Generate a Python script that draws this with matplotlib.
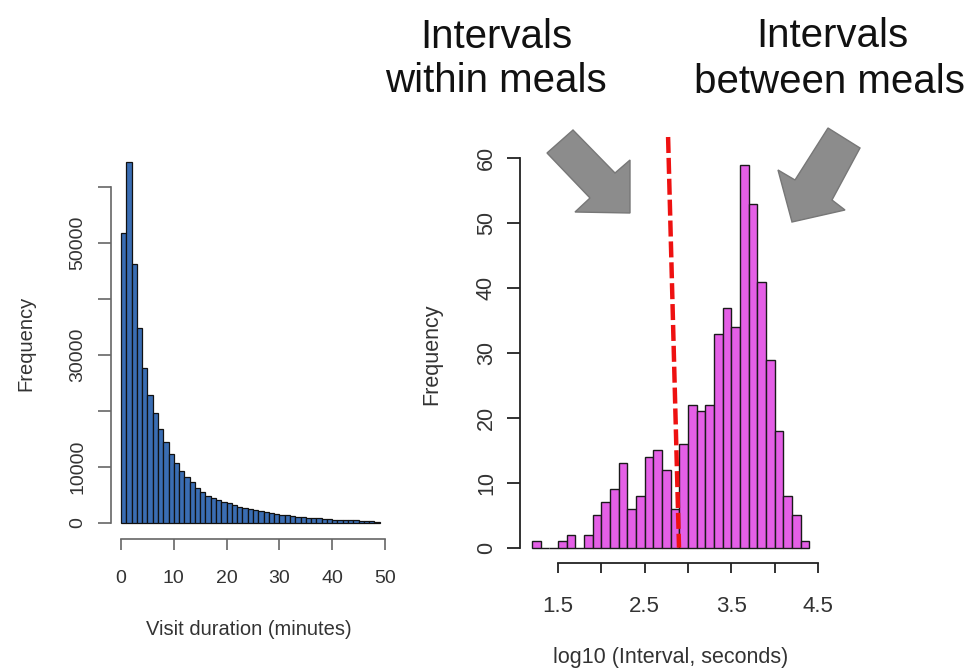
import numpy as np
import matplotlib
matplotlib.use("Agg")
import matplotlib.pyplot as plt
from matplotlib.patches import Polygon

plt.rcParams["font.family"] = ["Liberation Sans", "DejaVu Sans"]

# ---- visit durations (minutes), 1-minute bins starting at 0 ----
duration_counts = [
    51800, 64400, 46300, 34800, 27700, 22900, 19600, 16700, 14400, 12400,
    10800, 9350, 8300, 7300, 6250, 5500, 4900, 4450, 4100, 3800,
    3500, 3200, 2900, 2700, 2450, 2300, 2100, 1950, 1750, 1600,
    1450, 1350, 1250, 1150, 1050, 980, 900, 850, 780, 720,
    600, 550, 520, 480, 450, 420, 400, 380, 200,
]
duration_edges = np.arange(0, len(duration_counts) + 1, 1.0)
duration_ticks = [0, 10, 20, 30, 40, 50]
duration_yticks = [0, 10000, 20000, 30000, 40000, 50000, 60000]
duration_ylabels = ["0", "", "10000", "", "30000", "", "50000"]
duration_ylabels = ["0", "10000", "", "30000", "", "50000", ""]

# ---- log10 of inter-visit intervals (seconds), bins of 0.1 from 1.2 ----
interval_counts = [
    1, 0, 0, 1, 2, 0, 2, 5, 7, 9, 13, 6, 8, 14, 15, 12,
    6, 16, 22, 21, 22, 33, 37, 34, 59, 53, 41, 29, 18, 8, 5, 1,
]
interval_edges = np.round(1.2 + 0.1 * np.arange(len(interval_counts) + 1), 1)
interval_ticks = [1.5, 2.0, 2.5, 3.0, 3.5, 4.0, 4.5]
interval_xlabels = ["1.5", "", "2.5", "", "3.5", "", "4.5"]
interval_yticks = [0, 10, 20, 30, 40, 50, 60]

# meal-separation threshold line (x, y) at its top and bottom
cutoff_x = [2.77, 2.896]
cutoff_y = [63.3, 0.0]

W, H = 973, 670
fig = plt.figure(figsize=(W / 100, H / 100), dpi=100)
fig.patch.set_facecolor("white")


def px_axes(left, right, bottom, top):
    return fig.add_axes([left / W, 1 - bottom / H, (right - left) / W, (bottom - top) / H])


# ---------------- left panel ----------------
axL = px_axes(111, 395, 539, 153.4)
axL.bar(duration_edges[:-1], duration_counts, width=np.diff(duration_edges),
        align="edge", color="#3a6db3", edgecolor="#111111", linewidth=0.9)
axL.set_xlim(-1.894, 51.894)
axL.set_ylim(-2857, 66000)
for s in ("top", "right"):
    axL.spines[s].set_visible(False)
axL.spines["left"].set_bounds(0, 60000)
axL.spines["bottom"].set_bounds(0, 50)
for s in ("left", "bottom"):
    axL.spines[s].set_color("#666666")
    axL.spines[s].set_linewidth(1.2)
axL.set_xticks(duration_ticks)
axL.set_xticklabels([str(t) for t in duration_ticks])
axL.set_yticks(duration_yticks)
axL.set_yticklabels(duration_ylabels)
axL.tick_params(axis="y", length=9.4, width=1.2, color="#666666", pad=8.3,
                labelsize=14, labelcolor="#333333", labelrotation=90)
axL.tick_params(axis="x", length=8, width=1.2, color="#666666", pad=14,
                labelsize=14, labelcolor="#333333")
for lab in axL.get_yticklabels():
    lab.set_va("center")

fig.text(26 / W, 1 - 343 / H, "Frequency", rotation=90, ha="center", va="center",
         fontsize=14.5, color="#333333")
fig.text(249 / W, 1 - 635 / H, "Visit duration (minutes)", ha="center",
         va="baseline", fontsize=14.5, color="#333333")

# ---------------- right panel ----------------
axR = px_axes(520, 830, 563, 130)
axR.bar(interval_edges[:-1], interval_counts, width=np.diff(interval_edges),
        align="edge", color="#e45fe6", edgecolor="#1a1a1a", linewidth=1.0)
axR.plot(cutoff_x, cutoff_y, color="#ee1111", linewidth=3.2,
         dashes=(3.6, 1.1), clip_on=False, zorder=5)
axR.set_xlim(1.0615, 4.638)
axR.set_ylim(-2.358, 64.38)
for s in ("top", "right"):
    axR.spines[s].set_visible(False)
axR.spines["left"].set_bounds(0, 60)
axR.spines["bottom"].set_bounds(1.5, 4.5)
for s in ("left", "bottom"):
    axR.spines[s].set_color("#222222")
    axR.spines[s].set_linewidth(1.3)
axR.set_xticks(interval_ticks)
axR.set_xticklabels(interval_xlabels)
axR.set_yticks(interval_yticks)
axR.set_yticklabels([str(t) for t in interval_yticks])
axR.tick_params(axis="y", length=9.4, width=1.3, color="#222222", pad=7.2,
                labelsize=15.5, labelcolor="#333333", labelrotation=90)
axR.tick_params(axis="x", length=7.5, width=1.3, color="#222222", pad=16.5,
                labelsize=16, labelcolor="#333333")
for lab in axR.get_yticklabels():
    lab.set_va("center")

fig.text(432 / W, 1 - 354 / H, "Frequency", rotation=90, ha="center", va="center",
         fontsize=15.5, color="#333333")
fig.text(671 / W, 1 - 663 / H, "log10 (Interval, seconds)", ha="center",
         va="baseline", fontsize=15.5, color="#333333")

# ---------------- headings ----------------
for txt, cx, base in [("Intervals", 496, 48), ("within meals", 496, 92.5),
                      ("Intervals", 832, 47), ("between meals", 829, 93)]:
    fig.text(cx / W, 1 - base / H, txt, ha="center", va="baseline",
             fontsize=29, color="#111111")

# ---------------- pointer arrows ----------------
def fig_poly(pts):
    return [(x / W, 1 - y / H) for x, y in pts]


arrow_within = [(573, 130), (615, 173), (630, 160), (630, 213),
                (575, 212), (590, 198), (547, 153)]
arrow_between = [(828, 128), (860, 148), (832, 200), (845, 210),
                 (792, 222), (778, 170), (795, 180)]
for pts in (arrow_within, arrow_between):
    fig.patches.append(Polygon(fig_poly(pts), closed=True, transform=fig.transFigure,
                               facecolor="#8c8c8c", edgecolor="#777777",
                               linewidth=1.0, figure=fig))

fig.savefig("out.png", dpi=100)
